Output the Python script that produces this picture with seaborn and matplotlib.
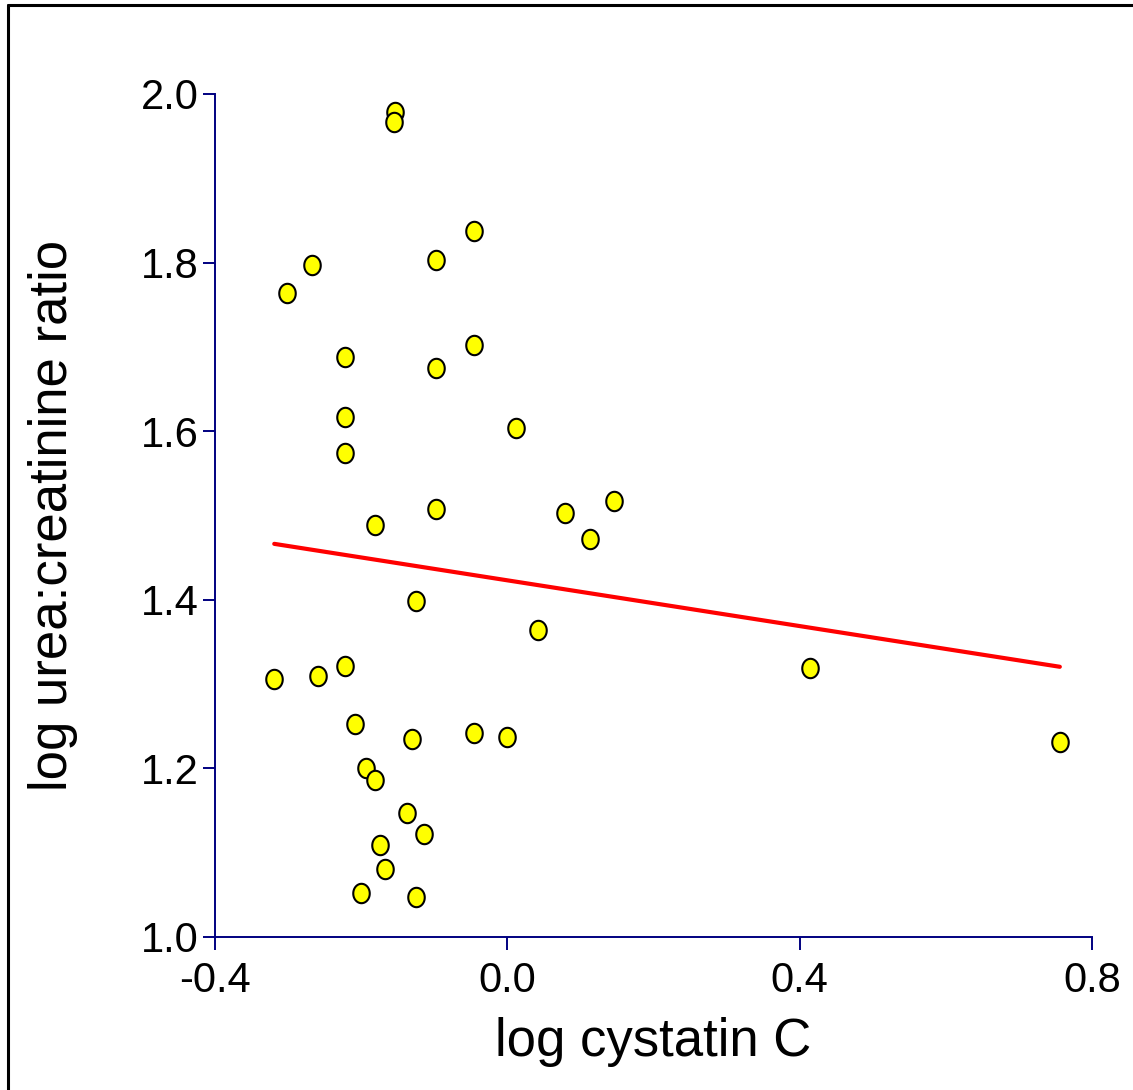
import numpy as np
import pandas as pd
import matplotlib
matplotlib.use("Agg")
import matplotlib.pyplot as plt
from matplotlib.lines import Line2D
from matplotlib.path import Path
import seaborn as sns

# values
log_cystatin = [-0.154, -0.155, -0.046, -0.098, -0.267, -0.301, -0.222, -0.046,
                -0.098, -0.222, 0.012, -0.222, -0.181, -0.098, 0.079, 0.146,
                0.113, -0.125, 0.042, -0.319, -0.259, -0.222, 0.414, 0.756,
                -0.208, -0.130, -0.046, 0.000, -0.193, -0.181, -0.137, -0.114,
                -0.174, -0.167, -0.200, -0.125]
log_ratio = [1.979, 1.967, 1.837, 1.803, 1.797, 1.764, 1.688, 1.702,
             1.675, 1.617, 1.604, 1.574, 1.489, 1.508, 1.503, 1.517,
             1.472, 1.399, 1.364, 1.306, 1.310, 1.321, 1.319, 1.231,
             1.253, 1.235, 1.242, 1.237, 1.200, 1.186, 1.147, 1.122,
             1.109, 1.081, 1.052, 1.047]
x_ticks = [-0.4, 0.0, 0.4, 0.8]
y_ticks = [1.0, 1.2, 1.4, 1.6, 1.8, 2.0]

df = pd.DataFrame({"cys": log_cystatin, "ratio": log_ratio})

sns.set_style("ticks")
plt.rcParams["font.family"] = ["Liberation Sans", "DejaVu Sans"]
plt.rcParams["axes.unicode_minus"] = False

# slightly tall ellipse marker like the original
t = np.linspace(0, 2 * np.pi, 60)
ellipse = Path(np.column_stack([0.85 * np.cos(t), np.sin(t)]), closed=True)

fig = plt.figure(figsize=(11.33, 10.9), dpi=100)
ax = fig.add_axes([0.1898, 0.1404, 0.7740, 0.7734])

sns.regplot(data=df, x="cys", y="ratio", ax=ax, ci=None, truncate=True,
            marker=ellipse,
            scatter_kws={"s": 195, "color": "#ffff00", "edgecolors": "black",
                         "linewidths": 1.5, "alpha": 1, "zorder": 3},
            line_kws={"color": "#ff0000", "lw": 3.0, "zorder": 2})

ax.set_xlim(-0.4, 0.8)
ax.set_ylim(1.0, 2.0)
ax.set_xticks(x_ticks)
ax.set_yticks(y_ticks)
ax.set_xticklabels([f"{v:.1f}" for v in x_ticks])
ax.set_yticklabels([f"{v:.1f}" for v in y_ticks])

navy = "#000080"
for side in ["top", "right"]:
    ax.spines[side].set_visible(False)
for side in ["left", "bottom"]:
    ax.spines[side].set_color(navy)
    ax.spines[side].set_linewidth(1.4)
ax.tick_params(axis="both", colors=navy, labelcolor="black", labelsize=30,
               width=1.4, length=9, pad=3)
ax.tick_params(axis="x", pad=8)

ax.set_xlabel("log cystatin C", fontsize=38, labelpad=12, color="black")
ax.set_ylabel("log urea:creatinine ratio", fontsize=38, labelpad=45, color="black")

# figure frame (left and top edges visible)
fig.add_artist(Line2D([8 / 1133, 8 / 1133], [0, 1 - 5 / 1090], color="black",
                      lw=2.2, transform=fig.transFigure))
fig.add_artist(Line2D([8 / 1133, 1], [1 - 5 / 1090, 1 - 5 / 1090], color="black",
                      lw=2.2, transform=fig.transFigure))

fig.savefig("out.png", dpi=100)
